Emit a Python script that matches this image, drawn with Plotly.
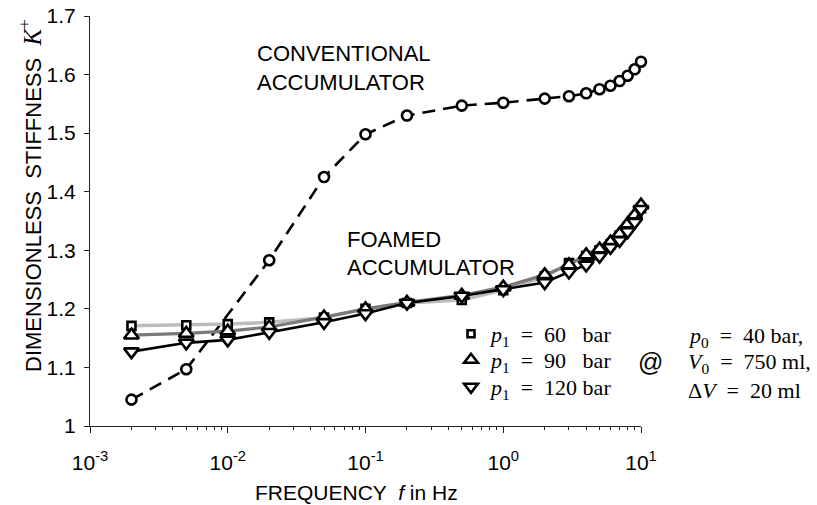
import plotly.graph_objects as go

# ---- data ----
freq_conv = [0.002, 0.005, 0.02, 0.05, 0.1, 0.2, 0.5, 1, 2, 3, 4, 5, 6, 7, 8, 9, 10]
k_conv = [1.045, 1.097, 1.283, 1.425, 1.498, 1.530, 1.547, 1.552, 1.559, 1.563,
          1.568, 1.575, 1.581, 1.589, 1.598, 1.609, 1.622]

freq_foam = [0.002, 0.005, 0.01, 0.02, 0.05, 0.1, 0.2, 0.5, 1, 2, 3, 4, 5, 6, 7, 8, 9, 10]
k_p60 = [1.171, 1.172, 1.174, 1.177, 1.185, 1.200, 1.210, 1.215, 1.232, 1.255,
         1.278, 1.290, 1.300, 1.310, 1.325, 1.340, 1.355, 1.372]
k_p90 = [1.155, 1.158, 1.162, 1.169, 1.186, 1.200, 1.211, 1.223, 1.237, 1.258,
         1.275, 1.292, 1.302, 1.314, 1.328, 1.345, 1.360, 1.377]
k_p120 = [1.127, 1.142, 1.147, 1.160, 1.177, 1.192, 1.210, 1.222, 1.233, 1.245,
          1.263, 1.275, 1.290, 1.305, 1.317, 1.332, 1.348, 1.370]

EQ = "\u2002=\u2002"
NB = "\u00a0"
series_names = ["<i>p</i><sub>1</sub>" + EQ + "60" + NB * 3 + "bar",
                "<i>p</i><sub>1</sub>" + EQ + "90" + NB * 3 + "bar",
                "<i>p</i><sub>1</sub>" + EQ + "120 bar"]
condition_texts = ["<i>p</i><sub>0</sub>" + EQ + "40 bar,",
                   "<i>V</i><sub>0</sub>" + EQ + "750 ml,",
                   "Δ<i>V</i>" + EQ + "20 ml"]

x_tick_vals = [0.001, 0.01, 0.1, 1, 10]
x_tick_text = ["10<sup>-3</sup>", "10<sup>-2</sup>", "10<sup>-1</sup>", "10<sup>0</sup>", "10<sup>1</sup>"]
x_minor_vals = [m * d for d in [0.001, 0.01, 0.1, 1] for m in range(2, 10)]
y_tick_vals = [1.0, 1.1, 1.2, 1.3, 1.4, 1.5, 1.6, 1.7]
y_tick_text = ["1", "1.1", "1.2", "1.3", "1.4", "1.5", "1.6", "1.7"]

SANS = "Liberation Sans, Arial, sans-serif"
SERIF = "Liberation Serif, DejaVu Serif, serif"

W, H = 817, 505
L, R, T, B = 90, 176, 16, 79


def px(xp):
    return (xp - L) / (W - L - R)


def py(yp):
    return (H - B - yp) / (H - T - B)


fig = go.Figure()

# conventional accumulator
fig.add_trace(go.Scatter(
    x=freq_conv, y=k_conv, mode="lines+markers", showlegend=False, cliponaxis=False,
    line=dict(color="black", width=2.6, dash="13px,8px"),
    marker=dict(symbol="circle", size=10, color="white", line=dict(color="black", width=2.6)),
))

styles = [
    (k_p60, "square", 8, "#bdbdbd", 3.5),
    (k_p90, "triangle-up", 13, "#7a7a7a", 3.2),
    (k_p120, "triangle-down", 13, "black", 2.6),
]
for (vals, sym, size, lc, lw) in styles:
    fig.add_trace(go.Scatter(
        x=freq_foam, y=vals, mode="lines+markers", showlegend=False, cliponaxis=False,
        line=dict(color=lc, width=lw),
        marker=dict(symbol=sym, size=size, color="white", line=dict(color="black", width=2.6)),
    ))

# legend-only entries (markers only), one legend per entry for exact placement
legend_ids = ["legend", "legend2", "legend3"]
legend_rows = [334, 360, 387]
for (vals, sym, size, lc, lw), name, lid in zip(styles, series_names, legend_ids):
    fig.add_trace(go.Scatter(
        x=[None], y=[None], mode="markers", name=name, legend=lid,
        marker=dict(symbol=sym, size=size - 1, color="white", line=dict(color="black", width=2.6)),
    ))

legend_layout = {}
for lid, row in zip(legend_ids, legend_rows):
    legend_layout[lid] = dict(x=px(451), y=py(row), xanchor="left", yanchor="middle",
                              bgcolor="rgba(0,0,0,0)", borderwidth=0,
                              font=dict(family=SERIF, size=22, color="black"),
                              itemwidth=30)

annos = [
    dict(text="CONVENTIONAL", x=px(255), y=py(54), xanchor="left", yanchor="middle",
         font=dict(family=SANS, size=22, color="black")),
    dict(text="ACCUMULATOR", x=px(255), y=py(82), xanchor="left", yanchor="middle",
         font=dict(family=SANS, size=22, color="black")),
    dict(text="FOAMED", x=px(345), y=py(239), xanchor="left", yanchor="middle",
         font=dict(family=SANS, size=22, color="black")),
    dict(text="ACCUMULATOR", x=px(345), y=py(267), xanchor="left", yanchor="middle",
         font=dict(family=SANS, size=22, color="black")),
    dict(text="@", x=px(650), y=py(362), xanchor="center", yanchor="middle",
         font=dict(family=SANS, size=25, color="black")),
    dict(text="DIMENSIONLESS  STIFFNESS  <span style='font-family:Liberation Serif;font-size:25px'><i>K</i><sup>+</sup></span>",
         x=px(30), y=py(196), xanchor="center", yanchor="middle", textangle=-90,
         font=dict(family=SANS, size=22, color="black")),
    dict(text="FREQUENCY  <i>f</i> in Hz", x=px(356), y=py(493), xanchor="center", yanchor="middle",
         font=dict(family=SANS, size=21, color="black")),
]
for txt, row in zip(condition_texts, [337, 363, 390]):
    annos.append(dict(text=txt, x=px(686), y=py(row), xanchor="left", yanchor="middle",
                      font=dict(family=SERIF, size=22, color="black")))
for a in annos:
    a.update(xref="paper", yref="paper", showarrow=False)

fig.update_layout(
    width=W, height=H,
    margin=dict(l=L, r=R, t=T, b=B, autoexpand=False),
    paper_bgcolor="white", plot_bgcolor="white",
    font=dict(family=SANS, size=21, color="black"),
    annotations=annos,
    xaxis=dict(type="log", range=[-3, 1], tickmode="array", tickvals=x_tick_vals, ticktext=x_tick_text,
               showgrid=False, zeroline=False, showline=True, linecolor="#222", linewidth=1.2,
               ticks="outside", ticklen=6, tickcolor="#222", tickwidth=1.2,
               ticklabelstandoff=12,
               tickfont=dict(family=SANS, size=21, color="black"),
               minor=dict(tickmode="array", tickvals=x_minor_vals, ticks="outside", ticklen=3,
                          tickcolor="#222", tickwidth=1, showgrid=False)),
    yaxis=dict(range=[1, 1.7], tickmode="array", tickvals=y_tick_vals, ticktext=y_tick_text,
               showgrid=False, zeroline=False, showline=True, linecolor="#222", linewidth=1.2,
               ticks="outside", ticklen=5, tickcolor="#222", tickwidth=1.2,
               ticklabelstandoff=4,
               tickfont=dict(family=SANS, size=21, color="black")),
    **legend_layout,
)

fig.write_html("out.html")
